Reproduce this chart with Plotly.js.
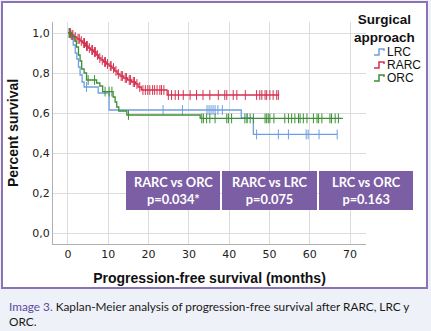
<!DOCTYPE html>
<html><head><meta charset="utf-8">
<script src="https://cdn.plot.ly/plotly-3.0.1.min.js"></script>
<style>html,body{margin:0;padding:0;background:#eef1f7;}#chart{width:431px;height:331px;}</style>
</head><body><div id="chart"></div>
<script>
// ---- data ----
const groups = ["LRC", "RARC", "ORC"];
const colors = ["#6d9fe3", "#d4314f", "#3d8f35"];

// LRC step curve (time in months, survival after step)
const lrcT = [0, 0.8, 1.3, 1.8, 2.2, 2.6, 3.0, 3.5, 4.0, 7.5, 10.2, 43.0, 46.0, 66.8];
const lrcS = [1.0, 0.97, 0.94, 0.90, 0.87, 0.83, 0.79, 0.755, 0.73, 0.70, 0.615, 0.575, 0.493, 0.493];
const lrcCensor = [0.3, 4.6, 23.6, 28.4, 34.5, 35.0, 35.5, 36.0, 36.5, 37.2, 38.3, 44.5, 46.8, 52.2, 54.7, 59.1, 59.6, 62.3, 66.8];

// RARC step curve
const rarcT = [0, 0.8, 1.5, 2.2, 3.0, 3.6, 4.3, 5.0, 5.6, 6.3, 7.0, 7.6, 8.2, 8.8, 9.5, 10.2, 10.9, 11.6, 12.2, 12.9, 13.8, 14.8, 15.8, 16.8, 17.4, 18.2, 24.6, 52.4];
const rarcS = [1.0, 0.99, 0.98, 0.97, 0.96, 0.95, 0.935, 0.925, 0.915, 0.905, 0.89, 0.875, 0.865, 0.855, 0.845, 0.835, 0.825, 0.81, 0.795, 0.785, 0.775, 0.765, 0.755, 0.745, 0.73, 0.715, 0.69, 0.69];
const rarcCensor = [0.3, 0.6, 1.0, 1.2, 1.8, 2.5, 2.8, 3.3, 3.9, 4.1, 4.6, 4.8, 5.3, 5.9, 6.1, 6.6, 6.8, 7.3, 7.9, 8.5, 9.1, 9.3, 9.8, 10.5, 10.7, 11.3, 11.9, 12.5, 13.2, 13.5, 14.2, 14.5, 15.2, 15.5, 16.2, 16.5, 17.1, 17.8, 18.6, 19.2, 19.8, 20.3, 21.0, 21.5, 22.1, 22.8, 23.2, 23.8, 24.9, 25.7, 26.6, 27.4, 28.6, 30.3, 31.9, 33.5, 35.2, 37.3, 38.9, 39.4, 41.0, 41.9, 44.0, 46.8, 47.6, 48.1, 48.9, 49.3, 50.1, 50.9, 51.8, 52.2];

// ORC step curve
const orcT = [0, 1.0, 1.7, 2.1, 2.6, 3.0, 3.4, 4.0, 4.6, 7.1, 7.9, 8.6, 11.2, 11.7, 12.1, 12.6, 14.6, 32.8, 68.2];
const orcS = [1.0, 0.98, 0.96, 0.93, 0.89, 0.86, 0.82, 0.80, 0.765, 0.75, 0.735, 0.707, 0.68, 0.655, 0.63, 0.61, 0.59, 0.573, 0.573];
const orcCensor = [0.4, 5.0, 6.6, 9.2, 10.2, 10.9, 15.0, 33.2, 33.6, 34.4, 35.2, 36.5, 39.4, 39.8, 40.6, 43.9, 44.4, 45.2, 46.0, 48.9, 49.3, 49.7, 50.1, 51.1, 53.8, 54.7, 55.5, 56.3, 57.2, 57.6, 58.4, 59.3, 60.9, 61.8, 62.2, 63.0, 65.0, 65.4, 66.3, 67.1];

const xTicks = [0, 10, 20, 30, 40, 50, 60, 70];
const yTicks = [0, 0.2, 0.4, 0.6, 0.8, 1.0];
const yTickText = ["0,0", "0,2", "0,4", "0,6", "0,8", "1,0"];

const comparisons = ["RARC vs ORC", "RARC vs LRC", "LRC vs ORC"];
const pValues = ["p=0.034*", "p=0.075", "p=0.163"];

const caption = "Kaplan-Meier analysis of progression-free survival after RARC, LRC y<br>ORC.";

// ---- build ----
function survAt(T, S, t) { let s = S[0]; for (let i = 0; i < T.length; i++) { if (T[i] <= t) s = S[i]; } return s; }

const curves = [[lrcT, lrcS, lrcCensor], [rarcT, rarcS, rarcCensor], [orcT, orcS, orcCensor]];
const traces = [];
curves.forEach((c, i) => {
  traces.push({x: c[0], y: c[1], type: 'scatter', mode: 'lines', line: {shape: 'hv', color: colors[i], width: 1.3}, showlegend: false, hoverinfo: 'skip'});
  traces.push({x: c[2], y: c[2].map(t => survAt(c[0], c[1], t)), type: 'scatter', mode: 'markers',
    marker: {symbol: 'line-ns-open', size: 7, color: colors[i], line: {color: colors[i], width: 1}}, showlegend: false, hoverinfo: 'skip'});
});

// pixel -> paper helpers (plot area: x 53..366, y 22..244)
const L = 53, R = 366, T = 22, B = 244;
const px = x => (x - L) / (R - L);
const py = y => (B - y) / (B - T);

const shapes = [
  {type: 'rect', xref: 'paper', yref: 'paper', x0: px(2), x1: px(427), y0: py(2), y1: py(288), fillcolor: '#ffffff', line: {color: '#8c74b4', width: 2}, layer: 'below'}
];
const annotations = [];
const boxes = [[126, 220], [222, 317], [319, 413]];
boxes.forEach((b, i) => {
  shapes.push({type: 'rect', xref: 'paper', yref: 'paper', x0: px(b[0]), x1: px(b[1]), y0: py(171), y1: py(210), fillcolor: '#7b5ea3', line: {width: 0}, layer: 'above'});
  annotations.push({xref: 'paper', yref: 'paper', x: px((b[0] + b[1]) / 2), y: py(190.5), text: '<b>' + comparisons[i] + '<br>' + pValues[i] + '</b>', showarrow: false,
    font: {family: 'Lato, sans-serif', size: 12.8, color: '#ffffff'}, align: 'center', xanchor: 'center', yanchor: 'middle'});
});

// legend (manual)
annotations.push({xref: 'paper', yref: 'paper', x: px(384), y: py(28.5), text: '<b>Surgical<br>approach</b>', showarrow: false,
  font: {family: 'Liberation Sans, Arial, sans-serif', size: 13.5, color: '#111'}, align: 'center', xanchor: 'center', yanchor: 'middle'});
const legY = [52, 65, 78];
groups.forEach((g, i) => {
  const y = legY[i], x0 = 374;
  shapes.push({type: 'path', xref: 'paper', yref: 'paper',
    path: `M ${px(x0)},${py(y + 3)} L ${px(x0 + 5)},${py(y + 3)} L ${px(x0 + 5)},${py(y - 3)} L ${px(x0 + 10)},${py(y - 3)} L ${px(x0 + 10)},${py(y - 1)}`,
    line: {color: colors[i], width: 1.5}});
  annotations.push({xref: 'paper', yref: 'paper', x: px(385), y: py(y), text: g, showarrow: false,
    font: {family: 'Liberation Sans, Arial, sans-serif', size: 12, color: '#111'}, xanchor: 'left', yanchor: 'middle'});
});

// caption
annotations.push({xref: 'paper', yref: 'paper', x: px(7), y: py(297), text: '<span style="color:#5d4aa0">Image 3.</span> ' + caption, showarrow: false,
  font: {family: 'Lato, sans-serif', size: 11.8, color: '#1a1a1a'}, align: 'left', xanchor: 'left', yanchor: 'top'});

const layout = {
  width: 431, height: 331,
  margin: {l: L, r: 431 - R, t: T, b: 331 - B, pad: 0},
  paper_bgcolor: '#eef1f7', plot_bgcolor: 'rgba(0,0,0,0)',
  showlegend: false,
  xaxis: {range: [-3.72, 73.95], tickvals: xTicks, ticktext: xTicks.map(String), showgrid: true, gridcolor: '#dcdcdc', gridwidth: 1,
    zeroline: false, showline: true, linecolor: '#b0b0b0', linewidth: 1, ticks: '', tickfont: {family: 'DejaVu Sans, sans-serif', size: 11, color: '#222'},
    title: {text: '<b>Progression-free survival (months)</b>', font: {family: 'Liberation Sans, Arial, sans-serif', size: 14, color: '#111'}, standoff: 12}},
  yaxis: {range: [-0.055, 1.055], tickvals: yTicks, ticktext: yTickText, showgrid: true, gridcolor: '#dcdcdc', gridwidth: 1,
    zeroline: false, showline: true, linecolor: '#b0b0b0', linewidth: 1, ticks: '', tickfont: {family: 'DejaVu Sans, sans-serif', size: 11, color: '#222'},
    title: {text: '<b>Percent survival</b>', font: {family: 'Liberation Sans, Arial, sans-serif', size: 14, color: '#111'}, standoff: 10}},
  shapes: shapes, annotations: annotations
};
Plotly.newPlot('chart', traces, layout, {displayModeBar: false, staticPlot: true});
</script></body></html>
